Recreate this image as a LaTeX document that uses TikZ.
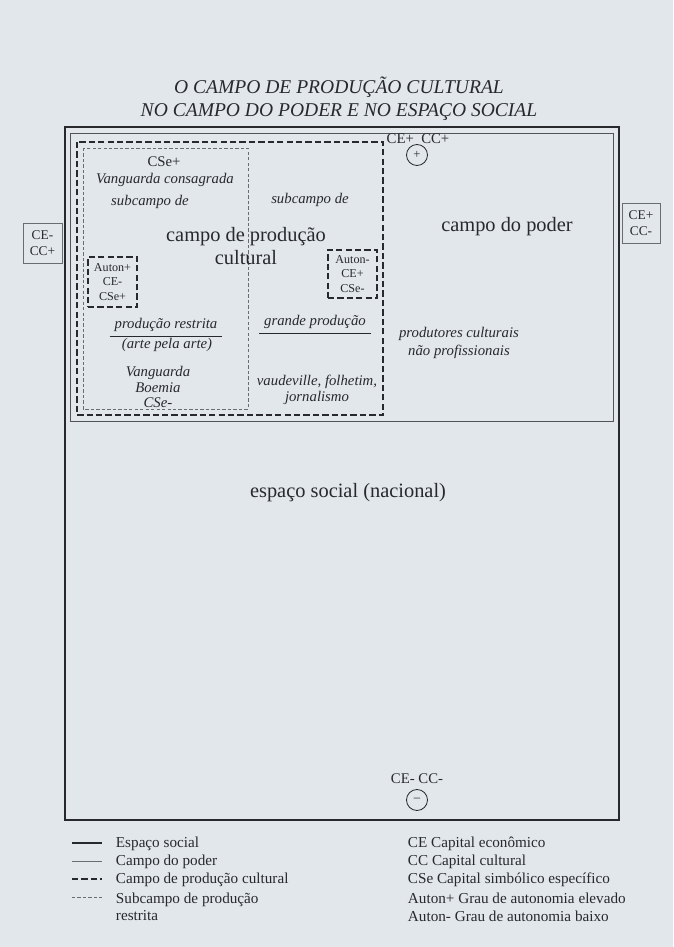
\documentclass[tikz,border=0pt]{standalone}
\usepackage{fontspec}
\setmainfont{Liberation Serif}

\definecolor{paper}{RGB}{226,231,236}
\definecolor{ink}{RGB}{40,41,45}
\definecolor{greyink}{RGB}{105,108,113}

\tikzset{
  big/.style={font=\fontsize{14.5}{17}\selectfont, align=center},
  lab/.style={font=\fontsize{10.5}{12.5}\selectfont\itshape, align=center},
  small/.style={font=\fontsize{10.5}{12}\selectfont, align=center},
  autonbox/.style={draw, cpc, font=\fontsize{8.6}{10.4}\selectfont, align=center,
    minimum width=1.23cm, inner sep=1pt},
  legend/.style={font=\fontsize{10.8}{12.5}\selectfont, anchor=west, align=left},
  social/.style={line width=1.4pt},
  poder/.style={line width=0.55pt, ink!80},
  cpc/.style={line width=1.1pt, dash pattern=on 4.5pt off 2.2pt},
  sub/.style={line width=0.4pt, greyink, dash pattern=on 2.4pt off 1.5pt},
  signo/.style={draw, circle, line width=0.6pt, minimum size=0.525cm, inner sep=0pt,
    font=\fontsize{9}{10}\selectfont},
  eixo/.style={draw=greyink, line width=0.5pt, align=center, inner sep=1pt,
    font=\fontsize{9.5}{11.5}\selectfont},
}

\begin{document}
\begin{tikzpicture}[x=0.025cm, y=-0.025cm, color=ink]
  \fill[paper] (0,0) rectangle (673,947);
  \useasboundingbox (0,0) rectangle (673,947);

  % titulo
  \node[font=\fontsize{13.9}{16.5}\selectfont\itshape, align=center] (titulo) at (339,99)
    {O CAMPO DE PRODUÇÃO CULTURAL\\NO CAMPO DO PODER E NO ESPAÇO SOCIAL};

  % os quatro campos
  \draw[social] (65,127) rectangle (619,820);
  \draw[poder] (70,133) rectangle (613,421);
  \draw[cpc] (77,142) rectangle (383,415);
  \draw[sub] (83,148) rectangle (248,409);

  % polos do espaco social
  \node[small] (topo) at (418,138.5) {CE+\enspace CC+};
  \node[signo] (mais) at (417,155) {+};
  \node[small] (baixo) at (417,779) {CE- CC-};
  \node[signo] (menos) at (417,800) {--};
  \node[eixo, minimum width=0.97cm, minimum height=1cm] (esquerda) at (42.5,243) {CE-\\CC+};
  \node[eixo, minimum width=0.95cm, minimum height=1cm] (direita) at (641,223) {CE+\\CC-};

  % campo de producao cultural
  \node[small] (cse) at (164,162) {CSe+};
  \node[lab] (consagrada) at (165,180) {Vanguarda consagrada};
  \node[lab] (sub1) at (150,202) {subcampo de};
  \node[lab] (sub2) at (310,200) {subcampo de};
  \node[big] (cpc) at (246,246) {campo de produção\\cultural};
  \node[autonbox, minimum height=1.25cm] (autonmais) at (112.5,282) {Auton+\\CE-\\CSe+};
  \node[autonbox, minimum height=1.2cm] (autonmenos) at (352.5,274) {Auton-\\CE+\\CSe-};

  \node[lab] (restrita) at (166,325) {produção restrita};
  \draw[line width=0.6pt] (restrita.south west) -- (restrita.south east);
  \node[lab] (arte) at (167,345) {(arte pela arte)};
  \node[lab, font=\fontsize{10.5}{10.9}\selectfont\itshape] (boemia) at (158,387) {Vanguarda\\Boemia\\CSe-};

  \node[lab] (grande) at (315,322) {grande produção};
  \draw[line width=0.6pt] (grande.south west) -- (grande.south east);
  \node[lab, font=\fontsize{10.5}{11.5}\selectfont\itshape] (vaudeville) at (317,390)
    {vaudeville, folhetim,\\jornalismo};

  % campo do poder e espaco social
  \node[big] (poder) at (507,227) {campo do poder};
  \node[lab] (produtores) at (459,343) {produtores culturais\\não profissionais};
  \node[big] (espaco) at (348,493) {espaço social (nacional)};

  % legenda
  \draw[social] (72,843) -- (102,843);
  \draw[poder, line width=0.4pt, greyink] (72,861) -- (102,861);
  \draw[cpc] (72,879) -- (102,879);
  \draw[sub] (72,897) -- (102,897);
  \node[legend] (l1) at (111,844) {Espaço social};
  \node[legend] (l2) at (111,862) {Campo do poder};
  \node[legend] (l3) at (111,880) {Campo de produção cultural};
  \node[legend] (l4) at (111,907) {Subcampo de produção\\restrita};
  \node[legend] (r1) at (403,844) {CE Capital econômico};
  \node[legend] (r2) at (403,862) {CC Capital cultural};
  \node[legend] (r3) at (403,880) {CSe Capital simbólico específico};
  \node[legend] (r4) at (403,898) {Auton+ Grau de autonomia elevado};
  \node[legend] (r5) at (403,916) {Auton- Grau de autonomia baixo};
\end{tikzpicture}
\end{document}
